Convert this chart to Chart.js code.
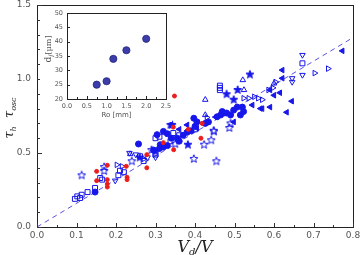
<!DOCTYPE html>
<html>
<head>
<meta charset="utf-8">
<script src="https://cdn.jsdelivr.net/npm/chart.js@4.4.0/dist/chart.umd.min.js"></script>
<style>
html, body { margin: 0; padding: 0; background: #fff; }
#wrap { position: relative; width: 362px; height: 255px; }
#mainChart { position: absolute; left: 0; top: 0; }
#insetChart { position: absolute; left: 40px; top: 8px; background: #fff; }
</style>
</head>
<body>
<div id="wrap">
    <canvas id="mainChart" width="362" height="255"></canvas>
    <canvas id="insetChart" width="132" height="114"></canvas>
</div>
<script>
// main panel: [Vd/V, tau_h tau_osc]
var redDots = [[0.151,0.376],[0.178,0.417],[0.151,0.313],[0.178,0.32],[0.178,0.29],[0.178,0.27],
    [0.228,0.336],[0.228,0.32],[0.226,0.41],[0.278,0.489],[0.278,0.40],[0.346,0.522],[0.345,0.675],
    [0.383,0.66],[0.348,0.885],[0.418,0.70],[0.415,0.60],[0.32,0.57]];
var openSquares = [[0.096,0.19],[0.102,0.207],[0.109,0.196],[0.113,0.218],[0.128,0.236],[0.147,0.264],
    [0.16,0.331],[0.165,0.32],[0.206,0.35],[0.21,0.38],[0.22,0.37],[0.261,0.478],[0.27,0.446],[0.30,0.60],
    [0.30,0.489],[0.31,0.61],[0.338,0.579],[0.345,0.635],[0.463,0.925],[0.463,0.94],[0.463,0.955],
    [0.672,1.106],[0.36,0.62],[0.40,0.66]];
var openStars = [[0.113,0.349],[0.17,0.405],[0.17,0.378],[0.397,0.46],[0.454,0.444],[0.441,0.586],
    [0.423,0.556],[0.448,0.646],[0.487,0.669],[0.49,0.70],[0.447,0.65],[0.24,0.444],[0.29,0.52],[0.35,0.56]];
var filledStars = [[0.338,0.69],[0.382,0.556],[0.539,1.03],[0.508,0.926],[0.48,0.897],[0.498,0.86],
    [0.342,0.69],[0.30,0.51],[0.26,0.47]];
var openTriUp = [[0.426,0.86],[0.426,0.757],[0.521,0.993],[0.524,0.926],[0.60,0.97],[0.236,0.493]];
var openTriDown = [[0.672,1.162],[0.672,1.027],[0.646,1.005],[0.646,0.98],[0.198,0.313],[0.234,0.50],
    [0.25,0.49],[0.28,0.47],[0.30,0.47]];
var openTriRight = [[0.703,1.04],[0.737,1.07],[0.523,0.87],[0.536,0.87],[0.55,0.88],[0.56,0.87],
    [0.57,0.86],[0.586,0.926],[0.597,0.94],[0.604,0.98],[0.202,0.42],[0.215,0.41],[0.27,0.46],[0.43,0.74]];
var filledTriLeft = [[0.773,1.19],[0.621,1.06],[0.621,1.005],[0.615,0.907],[0.60,0.89],[0.59,0.926],
    [0.645,0.85],[0.632,0.775],[0.566,0.80],[0.57,0.80],[0.59,0.81],[0.545,0.824],[0.498,0.71],
    [0.452,0.743],[0.38,0.69],[0.405,0.667],[0.36,0.66]];
var filledDots = [[0.257,0.561],[0.456,0.745],[0.469,0.78],[0.48,0.77],[0.498,0.79],[0.507,0.81],
    [0.52,0.81],[0.523,0.78],[0.515,0.757],[0.49,0.757],[0.473,0.77],[0.465,0.757],[0.397,0.735],
    [0.405,0.71],[0.426,0.70],[0.434,0.71],[0.295,0.52],[0.31,0.53],[0.32,0.54],[0.33,0.55],
    [0.312,0.556],[0.304,0.624],[0.32,0.646],[0.355,0.6],[0.37,0.62],[0.38,0.64],[0.39,0.65],
    [0.34,0.60],[0.36,0.58],[0.147,0.236],[0.33,0.63],[0.40,0.68]];
var fitLine = [[0, 0], [0.8, 1.28]];

var xTicks = [0, 0.1, 0.2, 0.3, 0.4, 0.5, 0.6, 0.7, 0.8];
var yTicks = [0, 0.5, 1.0, 1.5];

// inset: droplet size vs Ro
var insetRo = [0.75, 1.0, 1.17, 1.5, 2.0];
var insetDf = [25, 26.2, 34, 37, 41];
var insetXTicks = [0, 0.5, 1.0, 1.5, 2.0, 2.5];
var insetYTicks = [20, 25, 30, 35, 40, 45, 50];

var BLUE = 'rgb(22,22,235)';
var RED = 'rgb(235,30,30)';

function toXY(pairs) {
    return pairs.map(function(p) { return { x: p[0], y: p[1] }; });
}

function makeStar(filled) {
    var c = document.createElement('canvas');
    c.width = 10; c.height = 10;
    var g = c.getContext('2d');
    g.beginPath();
    for (var i = 0; i < 10; i++) {
        var r = i % 2 === 0 ? 4.2 : 1.8;
        var a = -Math.PI / 2 + i * Math.PI / 5;
        var px = 5 + r * Math.cos(a), py = 5 + r * Math.sin(a);
        if (i === 0) g.moveTo(px, py); else g.lineTo(px, py);
    }
    g.closePath();
    if (filled) { g.fillStyle = BLUE; g.fill(); }
    g.strokeStyle = BLUE;
    g.lineWidth = 1;
    g.stroke();
    return c;
}

function drawParts(ctx, parts, cx, cy) {
    var total = 0;
    parts.forEach(function(p) { ctx.font = p.f; p.w = ctx.measureText(p.t).width; total += p.w; });
    var x = cx - total / 2;
    ctx.textBaseline = 'alphabetic';
    ctx.textAlign = 'left';
    parts.forEach(function(p) {
        ctx.font = p.f;
        ctx.fillText(p.t, x, cy + (p.dy || 0));
        x += p.w;
    });
}

function tickLabel(v) { return v.toFixed(1); }

// keep the plot box where the reference has it, labels may hang over the edge
function noScalePadding(s) {
    s.paddingTop = 0; s.paddingBottom = 0; s.paddingLeft = 0; s.paddingRight = 0;
}

var mainDecor = {
    id: 'mainDecor',
    afterDraw: function(chart) {
        var ctx = chart.ctx, a = chart.chartArea;
        var xs = chart.scales.x, ys = chart.scales.y;
        var i, px, len;
        ctx.save();
        ctx.strokeStyle = '#222';
        ctx.lineWidth = 1;
        ctx.strokeRect(Math.round(a.left) + 0.5, Math.round(a.top) + 0.5,
            Math.round(a.right - a.left), Math.round(a.bottom - a.top));
        ctx.strokeStyle = '#333';
        ctx.beginPath();
        for (i = 0; i <= 16; i++) {
            px = Math.round(xs.getPixelForValue(i * 0.05)) + 0.5;
            len = i % 2 === 0 ? 4 : 2;
            ctx.moveTo(px, a.bottom);
            ctx.lineTo(px, a.bottom - len);
        }
        for (i = 0; i <= 15; i++) {
            px = Math.round(ys.getPixelForValue(i * 0.1)) + 0.5;
            len = i % 5 === 0 ? 5 : 3;
            ctx.moveTo(a.left, px);
            ctx.lineTo(a.left + len, px);
        }
        ctx.stroke();

        ctx.fillStyle = '#222';
        drawParts(ctx, [
            { t: 'V', f: 'italic 16px "DejaVu Serif"' },
            { t: 'd', f: 'italic 10px "DejaVu Serif"', dy: 3 },
            { t: '/V', f: 'italic 16px "DejaVu Serif"' }
        ], (a.left + a.right) / 2, 252);

        ctx.translate(13, 118);
        ctx.rotate(-Math.PI / 2);
        drawParts(ctx, [
            { t: 'τ', f: 'italic 13px "DejaVu Serif"' },
            { t: 'h', f: 'italic 8px "DejaVu Serif"', dy: 3 },
            { t: '  τ', f: 'italic 13px "DejaVu Serif"' },
            { t: 'osc', f: 'italic 8px "DejaVu Serif"', dy: 3 }
        ], 0, 0);
        ctx.restore();
    }
};

var insetDecor = {
    id: 'insetDecor',
    afterDraw: function(chart) {
        var ctx = chart.ctx, a = chart.chartArea;
        var xs = chart.scales.x, ys = chart.scales.y;
        var i, px;
        ctx.save();
        ctx.strokeStyle = '#222';
        ctx.lineWidth = 1;
        ctx.strokeRect(Math.round(a.left) + 0.5, Math.round(a.top) + 0.5,
            Math.round(a.right - a.left), Math.round(a.bottom - a.top));
        ctx.beginPath();
        for (i = 0; i <= 10; i++) {
            px = Math.round(xs.getPixelForValue(i * 0.25)) + 0.5;
            ctx.moveTo(px, a.bottom);
            ctx.lineTo(px, a.bottom - (i % 2 === 0 ? 3 : 2));
        }
        insetYTicks.forEach(function(v) {
            px = Math.round(ys.getPixelForValue(v)) + 0.5;
            ctx.moveTo(a.left, px);
            ctx.lineTo(a.left + 3, px);
        });
        ctx.stroke();

        ctx.fillStyle = '#555';
        drawParts(ctx, [{ t: 'Ro [mm]', f: '7px "DejaVu Sans"' }], (a.left + a.right) / 2, 109);

        ctx.translate(11, 41);
        ctx.rotate(-Math.PI / 2);
        drawParts(ctx, [
            { t: 'd', f: '9px "DejaVu Serif"' },
            { t: 'f', f: 'italic 6px "DejaVu Serif"', dy: 2 },
            { t: '[μm]', f: '8px "DejaVu Serif"' }
        ], 0, 0);
        ctx.restore();
    }
};

function markerSet(pairs, style, opts) {
    var ds = {
        data: toXY(pairs),
        pointStyle: style,
        pointRadius: 3.2,
        pointBorderWidth: 1,
        borderColor: BLUE,
        backgroundColor: 'rgba(0,0,0,0)',
        pointRotation: 0
    };
    for (var k in opts) ds[k] = opts[k];
    return ds;
}

function initMainChart() {
    var starOpen = makeStar(false);
    var starFilled = makeStar(true);
    var axisFont = { family: '"DejaVu Sans"', size: 9 };

    new Chart(document.getElementById('mainChart'), {
        type: 'scatter',
        data: {
            datasets: [
                markerSet(redDots, 'circle', { pointRadius: 2, borderColor: RED, backgroundColor: RED }),
                markerSet(filledDots, 'circle', { pointRadius: 3, backgroundColor: BLUE }),
                markerSet(filledTriLeft, 'triangle', { pointRotation: 270, backgroundColor: BLUE }),
                markerSet(openTriRight, 'triangle', { pointRotation: 90 }),
                markerSet(openTriDown, 'triangle', { pointRotation: 180 }),
                markerSet(openTriUp, 'triangle', {}),
                markerSet(openSquares, 'rect', { pointRadius: 3.5 }),
                markerSet(filledStars, starFilled, {}),
                markerSet(openStars, starOpen, {}),
                {
                    type: 'line',
                    data: toXY(fitLine),
                    borderColor: 'rgb(90,80,225)',
                    borderWidth: 1,
                    borderDash: [5, 4],
                    pointRadius: 0,
                    fill: false
                }
            ]
        },
        options: {
            responsive: false,
            animation: false,
            layout: { padding: { left: 0, right: 9, top: 5, bottom: 0 } },
            plugins: { legend: { display: false }, tooltip: { enabled: false } },
            scales: {
                x: {
                    type: 'linear', min: 0, max: 0.8,
                    afterFit: function(s) { s.height = 28; noScalePadding(s); },
                    afterBuildTicks: function(s) { s.ticks = xTicks.map(function(v) { return { value: v }; }); },
                    grid: { display: false, drawTicks: false },
                    border: { display: false },
                    ticks: { padding: 3, color: '#555', font: axisFont, maxRotation: 0, callback: tickLabel }
                },
                y: {
                    type: 'linear', min: 0, max: 1.5,
                    afterFit: function(s) { s.width = 37; noScalePadding(s); },
                    afterBuildTicks: function(s) { s.ticks = yTicks.map(function(v) { return { value: v }; }); },
                    grid: { display: false, drawTicks: false },
                    border: { display: false },
                    ticks: { padding: 6, color: '#555', font: axisFont, callback: tickLabel }
                }
            }
        },
        plugins: [mainDecor]
    });
}

function initInsetChart() {
    var pts = insetRo.map(function(r, i) { return { x: r, y: insetDf[i] }; });
    var f = { family: '"DejaVu Sans"', size: 6.5 };

    new Chart(document.getElementById('insetChart'), {
        type: 'scatter',
        data: {
            datasets: [{
                data: pts,
                pointRadius: 3.6,
                pointBorderWidth: 0.8,
                borderColor: 'rgb(35,35,120)',
                backgroundColor: 'rgb(60,60,170)'
            }]
        },
        options: {
            responsive: false,
            animation: false,
            layout: { padding: { left: 0, right: 6, top: 5, bottom: 0 } },
            plugins: { legend: { display: false }, tooltip: { enabled: false } },
            scales: {
                x: {
                    type: 'linear', min: 0, max: 2.5,
                    afterFit: function(s) { s.height = 23; noScalePadding(s); },
                    afterBuildTicks: function(s) { s.ticks = insetXTicks.map(function(v) { return { value: v }; }); },
                    grid: { display: false, drawTicks: false },
                    border: { display: false },
                    ticks: { padding: 3, color: '#555', font: f, maxRotation: 0, callback: tickLabel }
                },
                y: {
                    type: 'linear', min: 20, max: 50,
                    afterFit: function(s) { s.width = 27; noScalePadding(s); },
                    afterBuildTicks: function(s) { s.ticks = insetYTicks.map(function(v) { return { value: v }; }); },
                    grid: { display: false, drawTicks: false },
                    border: { display: false },
                    ticks: { padding: 4, color: '#555', font: f }
                }
            }
        },
        plugins: [insetDecor]
    });
}

initMainChart();
initInsetChart();
</script>
</body>
</html>
